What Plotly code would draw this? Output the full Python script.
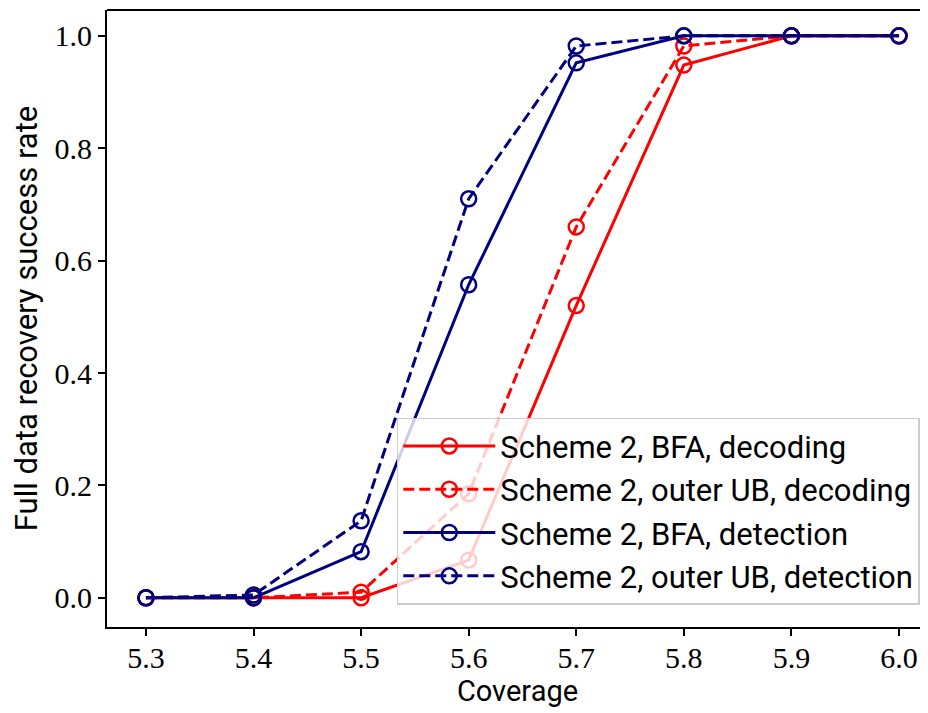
import plotly.graph_objects as go

coverage = [5.3, 5.4, 5.5, 5.6, 5.7, 5.8, 5.9, 6.0]
bfa_decoding = [0.0, 0.0, 0.0, 0.067, 0.52, 0.948, 1.0, 1.0]
ub_decoding = [0.0, 0.0, 0.01, 0.185, 0.66, 0.982, 1.0, 1.0]
bfa_detection = [0.0, 0.0, 0.082, 0.557, 0.952, 1.0, 1.0, 1.0]
ub_detection = [0.0, 0.005, 0.137, 0.71, 0.982, 1.0, 1.0, 1.0]

names = ["Scheme 2, BFA, decoding", "Scheme 2, outer UB, decoding",
         "Scheme 2, BFA, detection", "Scheme 2, outer UB, detection"]
series = [bfa_decoding, ub_decoding, bfa_detection, ub_detection]
colors = ["#ff0000", "#ff0000", "#000080", "#000080"]
dashes = ["solid", "11px,5px", "solid", "11px,5px"]

SANS = "Roboto"
SERIF = "Liberation Serif"

fig = go.Figure()
for i, (n, s, c, d) in enumerate(zip(names, series, colors, dashes)):
    fig.add_trace(go.Scatter(
        x=coverage, y=s, name=n, mode="lines+markers",
        line=dict(color=c, width=3, dash=d),
        marker=dict(symbol="circle-open", size=15, color=c, line=dict(width=2.5, color=c)),
        legendgroup=f"g{i}",
    ))

fig.update_layout(
    width=920, height=705,
    margin=dict(l=99, r=0, t=2, b=86),
    plot_bgcolor="white", paper_bgcolor="white",
    showlegend=True,
    legend=dict(
        x=0.99, y=0.036, xanchor="right", yanchor="bottom",
        bgcolor="rgba(255,255,255,0.8)", bordercolor="#cccccc", borderwidth=1.5,
        font=dict(family=SANS, size=31, color="black"),
        traceorder="grouped", tracegroupgap=0,
        itemwidth=92,
    ),
    xaxis=dict(
        range=[5.2638, 6.027], tickvals=coverage,
        ticktext=["5.3", "5.4", "5.5", "5.6", "5.7", "5.8", "5.9", "6.0"],
        showgrid=False, zeroline=False, showline=True, linecolor="black", linewidth=2,
        ticks="outside", ticklen=7, tickwidth=1.5, tickcolor="black",
        tickfont=dict(family=SERIF, size=30, color="black"),
        ticklabelstandoff=-4,
        title=dict(text="Coverage", font=dict(family=SANS, size=29, color="black"), standoff=4),
    ),
    yaxis=dict(
        range=[-0.052, 1.046], tickvals=[0, 0.2, 0.4, 0.6, 0.8, 1.0],
        ticktext=["0.0", "0.2", "0.4", "0.6", "0.8", "1.0"],
        showgrid=False, zeroline=False, showline=True, linecolor="black", linewidth=2,
        ticks="outside", ticklen=7, tickwidth=1.5, tickcolor="black",
        tickfont=dict(family=SERIF, size=30, color="black"),
        title=dict(text="Full data recovery success rate", font=dict(family=SANS, size=31, color="black"), standoff=8),
    ),
)
fig.add_shape(type="line", xref="paper", yref="paper", x0=0, x1=1, y0=1, y1=1,
              line=dict(color="black", width=2))

fig.write_html("out.html")
